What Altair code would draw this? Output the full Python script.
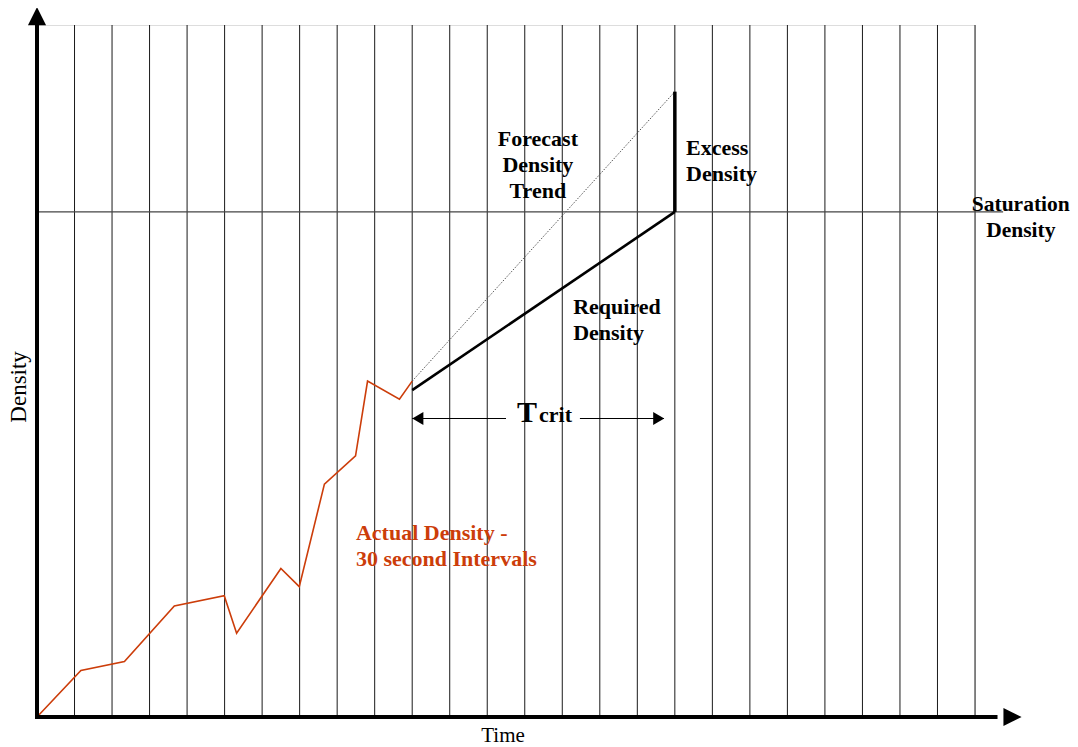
import altair as alt
import pandas as pd

# ---------------- data ----------------
actual_time = [0, 1.17, 2.33, 3.66, 4.99, 5.32, 6.50, 6.99, 7.66, 8.49, 8.81, 9.66, 10.0]
actual_density = [0, 9.2, 11.0, 22.0, 24.0, 16.6, 29.4, 25.8, 46.1, 51.7, 66.5, 62.9, 66.5]

forecast_time = [10.0, 17.0]
forecast_density = [66.5, 123.8]

required_time = [10.0, 17.0]
required_density = [64.7, 100.0]

excess_time = [17.0]
excess_low = [100.0]
excess_high = [123.8]

saturation_density = [100.0]
saturation_start = [0.0]
saturation_end = [25.75]

interval_times = [1, 2, 3, 4, 5, 6, 7, 8, 9, 10, 11, 12, 13, 14, 15, 16, 17, 18, 19, 20, 21, 22, 23, 24, 25]
interval_bottom = 0.0
interval_top = 137.0

tcrit_level = [59.1, 59.1]
tcrit_seg_start = [10.0, 14.47]
tcrit_seg_end = [12.5, 16.71]
tcrit_head_left = [10.15]
tcrit_head_right = [16.57]

x_axis_end = [25.6]
y_axis_end = [137.6]
x_arrow_at = [26.0]
y_arrow_at = [138.74]

# text labels: (x, y of first line, text)
forecast_label = [(13.35, 114.4, "Forecast\nDensity\nTrend")]
excess_label = [(17.30, 112.65, "Excess\nDensity")]
saturation_label = [(26.22, 101.36, "Saturation\nDensity")]
required_label = [(14.29, 81.17, "Required\nDensity")]
actual_label = [(8.50, 36.43, "Actual Density -\n30 second Intervals")]
tcrit_T = [(12.79, 58.46, "T")]
tcrit_sub = [(13.38, 58.46, "crit")]
y_title = [(-0.28, 65.35, "Density")]
x_title = [(12.42, -3.7, "Time")]

RED = "#cc3d0a"
FONT = "Liberation Serif"

# ---------------- scales ----------------
xs = alt.Scale(domain=[0, 25], nice=False, zero=False)
ys = alt.Scale(domain=[0, 137], nice=False, zero=False)


def X(f="x"):
    return alt.X(f"{f}:Q", scale=xs, axis=None)


def Y(f="y"):
    return alt.Y(f"{f}:Q", scale=ys, axis=None)


# grid of interval lines
grid_df = pd.DataFrame({"x": interval_times,
                        "y": [interval_bottom] * len(interval_times),
                        "y2": [interval_top] * len(interval_times)})
grid = alt.Chart(grid_df).mark_rule(color="#1a1a1a", strokeWidth=1).encode(
    x=X(), y=Y(), y2="y2:Q")

sat_df = pd.DataFrame({"x": saturation_start, "x2": saturation_end, "y": saturation_density})
sat = alt.Chart(sat_df).mark_rule(color="#444444", strokeWidth=1.2).encode(
    x=X(), x2="x2:Q", y=Y())

fc_df = pd.DataFrame({"x": forecast_time, "y": forecast_density})
forecast = alt.Chart(fc_df).mark_line(color="#555555", strokeWidth=1,
                                      strokeDash=[1.5, 1.5]).encode(x=X(), y=Y())

act_df = pd.DataFrame({"x": actual_time, "y": actual_density, "o": list(range(len(actual_time)))})
actual = alt.Chart(act_df).mark_line(color=RED, strokeWidth=1.6).encode(
    x=X(), y=Y(), order="o:Q")

req_df = pd.DataFrame({"x": required_time, "y": required_density})
required = alt.Chart(req_df).mark_line(color="black", strokeWidth=2.6).encode(x=X(), y=Y())

exc_df = pd.DataFrame({"x": excess_time, "y": excess_low, "y2": excess_high})
excess = alt.Chart(exc_df).mark_rule(color="black", strokeWidth=3.5).encode(
    x=X(), y=Y(), y2="y2:Q")

tc_df = pd.DataFrame({"x": tcrit_seg_start, "x2": tcrit_seg_end, "y": tcrit_level})
tcrit_lines = alt.Chart(tc_df).mark_rule(color="black", strokeWidth=1.2).encode(
    x=X(), x2="x2:Q", y=Y())

tl_df = pd.DataFrame({"x": tcrit_head_left, "y": tcrit_level[:1]})
tr_df = pd.DataFrame({"x": tcrit_head_right, "y": tcrit_level[:1]})
head_l = alt.Chart(tl_df).mark_point(shape="M0.85,-1L-0.85,0L0.85,1Z", filled=True, size=169,
                                     color="black", opacity=1, strokeWidth=0).encode(x=X(), y=Y())
head_r = alt.Chart(tr_df).mark_point(shape="M-0.85,-1L0.85,0L-0.85,1Z", filled=True, size=169,
                                     color="black", opacity=1, strokeWidth=0).encode(x=X(), y=Y())

xa_df = pd.DataFrame({"x": [0.0], "x2": x_axis_end, "y": [0.0]})
x_axis = alt.Chart(xa_df).mark_rule(color="black", strokeWidth=4).encode(
    x=X(), x2="x2:Q", y=Y())
ya_df = pd.DataFrame({"x": [0.0], "y": [0.0], "y2": y_axis_end})
y_axis = alt.Chart(ya_df).mark_rule(color="black", strokeWidth=4, strokeCap="square").encode(
    x=X(), y=Y(), y2="y2:Q")

xh_df = pd.DataFrame({"x": x_arrow_at, "y": [0.0]})
x_head = alt.Chart(xh_df).mark_point(shape="M-1,-1L1,0L-1,1Z", filled=True, size=330,
                                     color="black", opacity=1, strokeWidth=0).encode(x=X(), y=Y())
yh_df = pd.DataFrame({"x": [0.0], "y": y_arrow_at})
y_head = alt.Chart(yh_df).mark_point(shape="M-1,1L0,-1L1,1Z", filled=True, size=330,
                                     color="black", opacity=1, strokeWidth=0).encode(x=X(), y=Y())


def label(rows, size=22, bold=True, color="black", align="center", baseline="middle", angle=0):
    df = pd.DataFrame(rows, columns=["x", "y", "t"])
    kw = dict(font=FONT, fontSize=size, fontWeight="bold" if bold else "normal", color=color,
              align=align, baseline=baseline, lineBreak="\n", lineHeight=26)
    if angle:
        kw["angle"] = angle
    return alt.Chart(df).mark_text(**kw).encode(x=X(), y=Y(), text="t:N")


texts = [
    label(forecast_label),
    label(excess_label, align="left"),
    label(saturation_label, size=21.5),
    label(required_label, align="left"),
    label(actual_label, color=RED, align="left"),
    label(tcrit_T, size=30, align="left", baseline="alphabetic"),
    label(tcrit_sub, size=22, align="left", baseline="alphabetic"),
    label(y_title, size=23, bold=False, baseline="alphabetic", angle=270),
    label(x_title, size=21, bold=False),
]

chart = alt.layer(grid, sat, forecast, actual, required, excess, tcrit_lines, head_l, head_r,
                  x_axis, y_axis, x_head, y_head, *texts).properties(
    width=938, height=692,
    padding={"left": 29, "top": 17, "right": 95, "bottom": 30},
    autosize=alt.AutoSizeParams(type="none"),
).configure_view(stroke=None).configure(background="white")

chart.save("out.html", embed_options={"renderer": "svg", "actions": False})
